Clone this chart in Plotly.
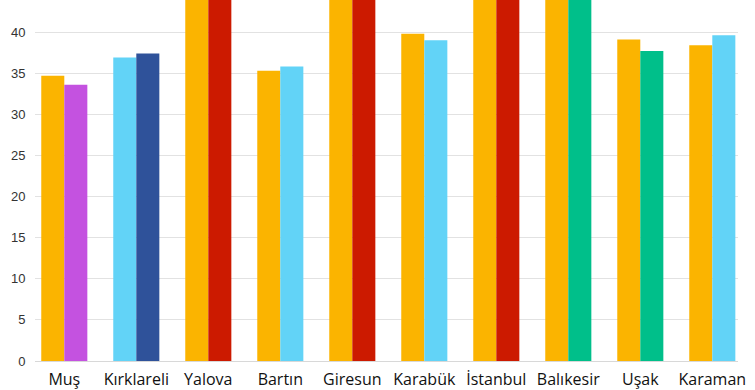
import plotly.graph_objects as go

cities = ["Muş", "Kırklareli", "Yalova", "Bartın", "Giresun", "Karabük",
          "İstanbul", "Balıkesir", "Uşak", "Karaman"]
first_values = [34.7, 36.9, 48.0, 35.3, 49.0, 39.8, 50.0, 47.0, 39.1, 38.4]
second_values = [33.6, 37.4, 47.5, 35.8, 48.0, 39.0, 49.5, 46.0, 37.7, 39.6]
first_colors = ["#FBB400", "#62D3F7", "#FBB400", "#FBB400", "#FBB400",
                "#FBB400", "#FBB400", "#FBB400", "#FBB400", "#FBB400"]
second_colors = ["#C452E0", "#2F529A", "#CC1A00", "#62D3F7", "#CC1A00",
                 "#62D3F7", "#CC1A00", "#00BF8A", "#00BF8A", "#62D3F7"]
y_ticks = [0, 5, 10, 15, 20, 25, 30, 35, 40]

fig = go.Figure()
fig.add_trace(go.Bar(x=cities, y=first_values, marker=dict(color=first_colors, line=dict(width=0)),
                     showlegend=False, hoverinfo="x+y"))
fig.add_trace(go.Bar(x=cities, y=second_values, marker=dict(color=second_colors, line=dict(width=0)),
                     showlegend=False, hoverinfo="x+y"))

fig.update_layout(
    width=755, height=390,
    margin=dict(l=35, r=17, t=0, b=29, autoexpand=False),
    barmode="group", bargap=0.36, bargroupgap=0,
    plot_bgcolor="white", paper_bgcolor="white",
    xaxis=dict(range=[-0.407, 9.357], showgrid=False, showline=False,
               automargin=False,
               ticks="outside", ticklen=4, tickcolor="rgba(0,0,0,0)",
               tickfont=dict(family="Open Sans", size=16, color="#111111"),
               fixedrange=True),
    yaxis=dict(range=[0, 43.9], tickvals=y_ticks, showgrid=True,
               automargin=False,
               gridcolor="#e2e2e2", gridwidth=1, zeroline=True,
               zerolinecolor="#d8d8d8", zerolinewidth=1,
               tickfont=dict(family="Liberation Sans", size=13, color="#333333"),
               ticks="outside", ticklen=6, tickcolor="rgba(0,0,0,0)",
               fixedrange=True),
)

fig.write_html(
    "out.html",
    config={"displayModeBar": False},
    post_script="document.body.style.margin='0';document.body.style.overflow='hidden';",
)
